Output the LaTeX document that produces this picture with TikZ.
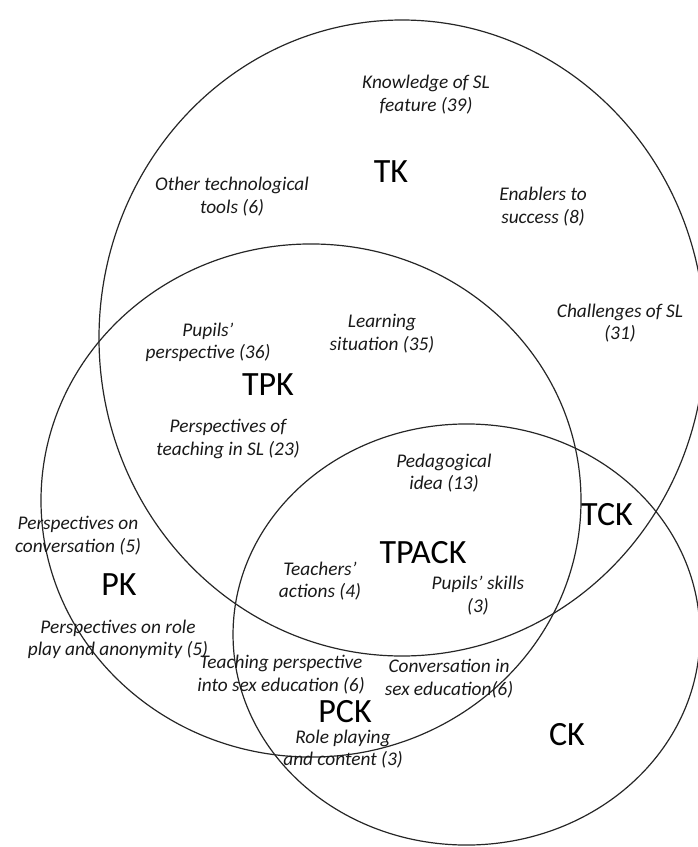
\documentclass[tikz,border=0pt]{standalone}
\usepackage{fontspec}
\setmainfont{Carlito}
\tikzset{
  venn/.style={draw=black!85, line width=0.9pt},
  lbl/.style={font=\itshape\fontsize{14.5}{17}\selectfont, align=center, inner sep=0pt, text=black!90},
  big/.style={font=\fontsize{25.5}{30}\selectfont, inner sep=0pt, text=black}
}
\begin{document}
\begin{tikzpicture}[x=0.75pt,y=-0.75pt]
\useasboundingbox (0,0) rectangle (698,847);
% ellipses
\draw[venn] (402,338) ellipse [x radius=227.25pt, y radius=238.5pt];
\draw[venn] (311,500.5) ellipse [x radius=202.5pt, y radius=192.4pt];
\draw[venn] (466.5,634.5) ellipse [x radius=175.1pt, y radius=157.9pt];
% labels
\node[lbl] (ksl) at (426,94.5) {Knowledge of SL\\feature (39)};
\node[big] (tk) at (391,172) {TK};
\node[lbl] (ott) at (232,196.5) {Other technological\\tools (6)};
\node[lbl] (ens) at (543,206.5) {Enablers to\\success (8)};
\node[lbl] (csl) at (620,323) {Challenges of SL\\(31)};
\node[lbl] (pp) at (208,342.5) {Pupils’\\perspective (36)};
\node[lbl] (ls) at (382,334) {Learning\\situation (35)};
\node[big] (tpk) at (268,385) {TPK};
\node[lbl] (pts) at (228,439) {Perspectives of\\teaching in SL (23)};
\node[lbl] (pi) at (444,473) {Pedagogical\\idea (13)};
\node[big] (tck) at (607,515) {TCK};
\node[big] (tpack) at (423,553) {TPACK};
\node[lbl] (poc) at (78,535.5) {Perspectives on\\conversation (5)};
\node[lbl] (ta) at (320,581) {Teachers’\\actions (4)};
\node[big] (pk) at (119,585) {PK};
\node[lbl] (ps) at (478,595.5) {Pupils’ skills\\(3)};
\node[lbl] (pra) at (118,639.5) {Perspectives on role\\play and anonymity (5)};
\node[lbl] (tps) at (281,674.5) {Teaching perspective\\into sex education (6)};
\node[lbl] (cse) at (449,678.5) {Conversation in\\sex education(6)};
\node[big] (pck) at (345,712) {PCK};
\node[big] (ck) at (567,735) {CK};
\node[lbl] (rpc) at (343,749) {Role playing\\and content (3)};
\end{tikzpicture}
\end{document}
